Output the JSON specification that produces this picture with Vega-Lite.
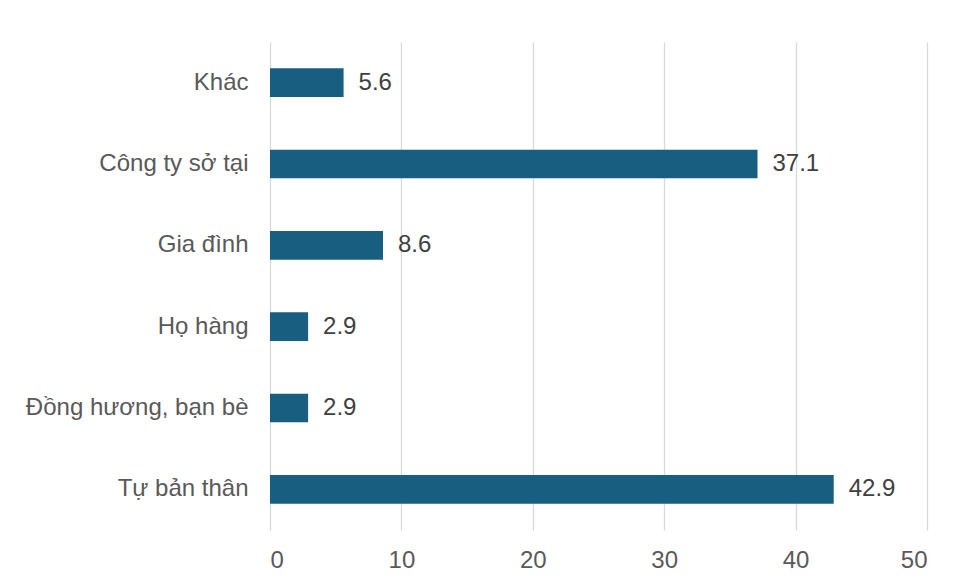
{
  "$schema": "https://vega.github.io/schema/vega-lite/v6.json",
  "autosize": {"type": "none"},
  "width": 657,
  "height": 488,
  "padding": {"left": 270, "top": 42, "right": 29, "bottom": 51},
  "background": "white",
  "data": {
    "values": [
      {"nguon": "Khác", "value": 5.6},
      {"nguon": "Công ty sở tại", "value": 37.1},
      {"nguon": "Gia đình", "value": 8.6},
      {"nguon": "Họ hàng", "value": 2.9},
      {"nguon": "Đồng hương, bạn bè", "value": 2.9},
      {"nguon": "Tự bản thân", "value": 42.9}
    ]
  },
  "encoding": {
    "y": {
      "field": "nguon",
      "type": "nominal",
      "sort": null,
      "title": null,
      "scale": {"paddingInner": 0.648, "paddingOuter": 0.324},
      "axis": {
        "ticks": false,
        "domain": false,
        "labelPadding": 22,
        "labelFont": "Liberation Sans",
        "labelFontSize": 24,
        "labelColor": "#595959",
        "labelLimit": 300
      }
    },
    "x": {
      "field": "value",
      "type": "quantitative",
      "title": null,
      "scale": {"domain": [0, 50], "nice": false},
      "axis": {
        "values": [0, 10, 20, 30, 40, 50],
        "ticks": false,
        "domain": false,
        "grid": true,
        "gridColor": "#d9d9d9",
        "gridWidth": 1.3,
        "labelPadding": 18,
        "labelFont": "Liberation Sans",
        "labelFontSize": 24,
        "labelColor": "#595959"
      }
    }
  },
  "layer": [
    {"mark": {"type": "bar", "color": "#175e80"}},
    {
      "mark": {
        "type": "text",
        "align": "left",
        "baseline": "middle",
        "dx": 15,
        "font": "Liberation Sans",
        "fontSize": 24,
        "color": "#404040"
      },
      "encoding": {"text": {"field": "value", "type": "quantitative", "format": ".1f"}}
    }
  ],
  "config": {"view": {"stroke": null}}
}
